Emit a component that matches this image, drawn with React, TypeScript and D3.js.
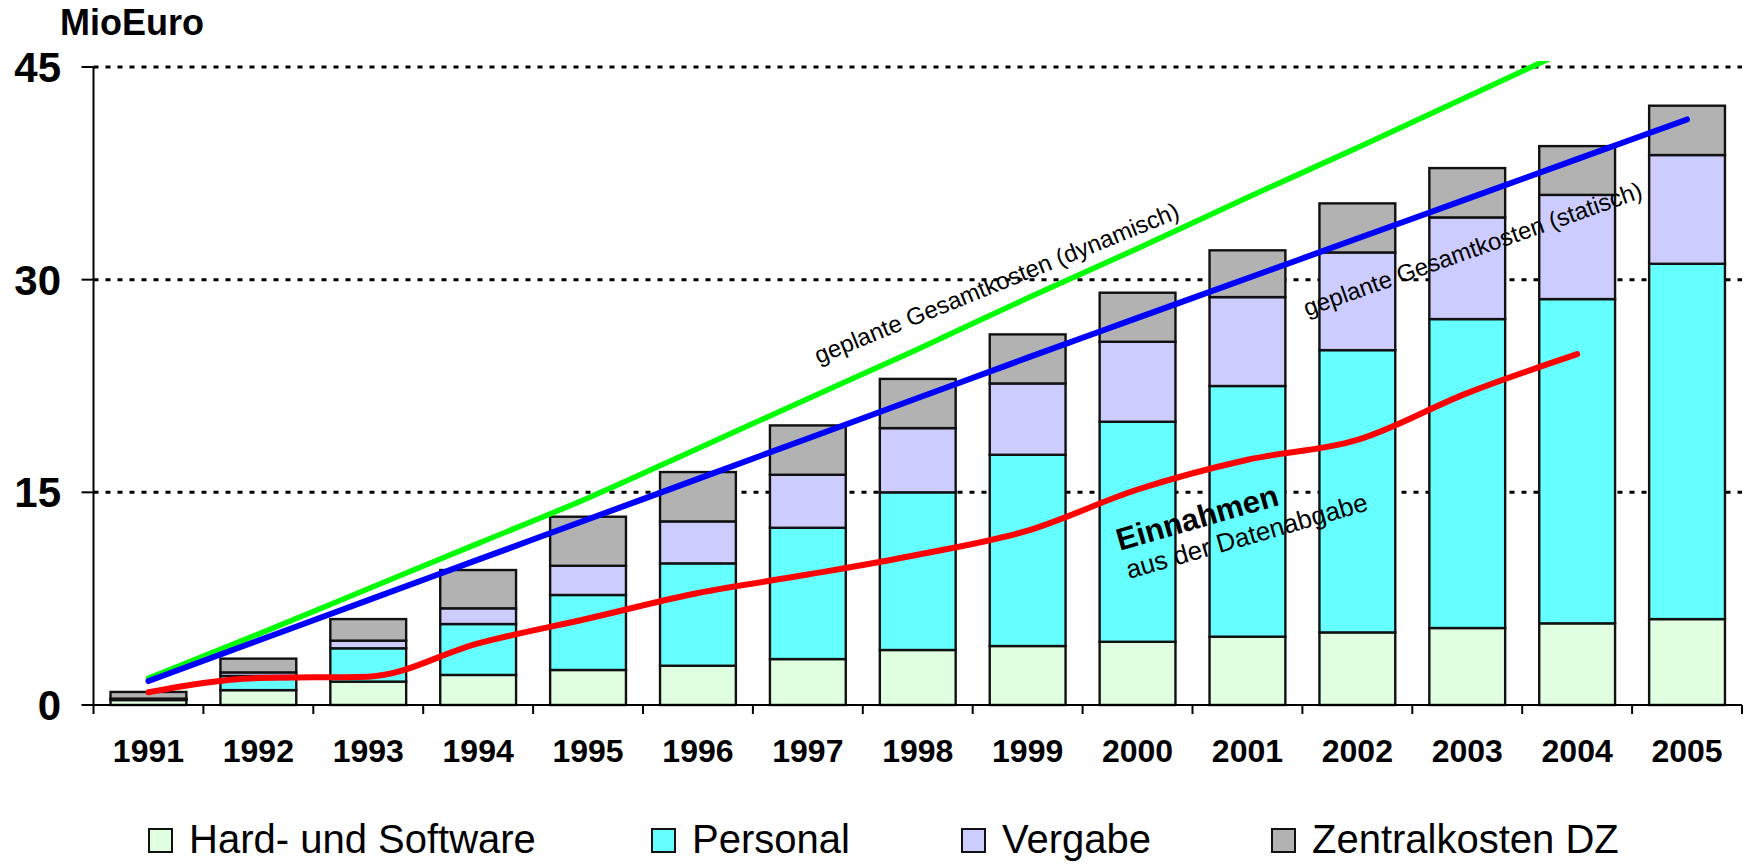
import React from 'react';
import * as d3 from 'd3';

const years = ['1991','1992','1993','1994','1995','1996','1997','1998','1999','2000','2001','2002','2003','2004','2005'];
const hardSoftware = [0.35, 1.05, 1.65, 2.12, 2.47, 2.77, 3.24, 3.88, 4.16, 4.46, 4.82, 5.12, 5.43, 5.76, 6.06];
const personal = [0.05, 1.0, 2.35, 3.59, 5.29, 7.22, 9.26, 11.12, 13.49, 15.52, 17.68, 19.91, 21.79, 22.87, 25.06];
const vergabe = [0.05, 0.25, 0.54, 1.11, 2.06, 2.96, 3.74, 4.53, 5.03, 5.64, 6.27, 6.89, 7.17, 7.35, 7.67];
const zentralkosten = [0.47, 0.97, 1.52, 2.70, 3.46, 3.48, 3.48, 3.47, 3.46, 3.46, 3.30, 3.46, 3.48, 3.44, 3.48];

const dynamischYears = ['1991','1992','1993','1994','1995','1996','1997','1998','1999','2000','2001','2002','2003','2004'];
const dynamisch = [1.88, 5.0, 8.2, 11.4, 14.6, 18.1, 21.6, 25.1, 28.7, 32.2, 35.8, 39.3, 42.9, 46.5];
const statisch = [1.69, 4.55, 7.4, 10.25, 13.1, 15.95, 18.8, 21.65, 24.5, 27.3, 30.1, 32.9, 35.7, 38.5, 41.3];
const einnahmenYears = ['1991','1992','1993','1994','1995','1996','1997','1998','1999','2000','2001','2002','2003','2004'];
const einnahmen = [0.9, 1.9, 2.0, 4.35, 6.1, 7.9, 9.2, 10.6, 12.3, 15.2, 17.3, 18.7, 22.0, 24.75];

const yTicks = [0, 15, 30, 45];
const seriesKeys = ['Hard- und Software', 'Personal', 'Vergabe', 'Zentralkosten DZ'];
const seriesColors = ['#E0FFE0', '#66FFFF', '#CCCCFF', '#B2B2B2'];

const FONT = '"Liberation Sans", Arial, sans-serif';

export default function App() {
  const W = 1746, H = 864;
  const x = d3.scaleBand<string>().domain(years).range([93.5, 1742]).paddingInner(0.31).paddingOuter(0.155);
  const y = d3.scaleLinear().domain([0, 45]).range([705, 67]);
  const cx = (yr: string) => (x(yr) as number) + x.bandwidth() / 2;

  const rows = years.map((yr, i) => ({
    year: yr,
    [seriesKeys[0]]: hardSoftware[i],
    [seriesKeys[1]]: personal[i],
    [seriesKeys[2]]: vergabe[i],
    [seriesKeys[3]]: zentralkosten[i],
  }));
  const stacked = d3.stack<any>().keys(seriesKeys)(rows);

  const line = d3.line<[string, number]>().x(d => cx(d[0])).y(d => y(d[1])).curve(d3.curveMonotoneX);
  const greenPath = line(dynamischYears.map((yr, i) => [yr, dynamisch[i]]));
  const bluePath = line(years.map((yr, i) => [yr, statisch[i]]));
  const redPath = line(einnahmenYears.map((yr, i) => [yr, einnahmen[i]]));

  const [x0, x1] = x.range();
  const step = x.step();
  const boundaries = d3.range(years.length + 1).map(i => x0 + i * step);

  const legendSquareX = [149, 652, 962, 1272];

  return (
    <svg width={W} height={H} style={{ position: 'absolute', left: 0, top: 0, display: 'block', background: '#fff' }} fontFamily={FONT}>
      <defs>
        <clipPath id="plotClip">
          <rect x={x0} y={y(45) - 6} width={x1 - x0} height={y(0) - y(45) + 6} />
        </clipPath>
      </defs>
      {yTicks.filter(t => t > 0).map(t => (
        <line key={t} x1={x0} x2={x1} y1={y(t)} y2={y(t)} stroke="#000" strokeWidth={3} strokeDasharray="5,7" />
      ))}
      {stacked.map((s, si) => (
        <g key={s.key}>
          {s.map((d, i) => (
            <rect key={i} x={x(years[i])} y={y(d[1])} width={x.bandwidth()} height={y(d[0]) - y(d[1])}
              fill={seriesColors[si]} stroke="#111" strokeWidth={2.4} />
          ))}
        </g>
      ))}
      <line x1={x0} x2={x0} y1={y(45)} y2={y(0)} stroke="#000" strokeWidth={2} />
      <line x1={x0} x2={x1} y1={y(0)} y2={y(0)} stroke="#000" strokeWidth={2} />
      {yTicks.map(t => (
        <g key={t}>
          <line x1={x0 - 12} x2={x0} y1={y(t)} y2={y(t)} stroke="#000" strokeWidth={2} />
          <text x={61} y={y(t)} dy="0.36em" textAnchor="end" fontSize={42} fontWeight="bold">{t}</text>
        </g>
      ))}
      {boundaries.map((bx, i) => (
        <line key={i} x1={bx} x2={bx} y1={y(0)} y2={y(0) + 9} stroke="#000" strokeWidth={2} />
      ))}
      {years.map(yr => (
        <text key={yr} x={cx(yr)} y={762} textAnchor="middle" fontSize={32} fontWeight="bold">{yr}</text>
      ))}
      <text x={60} y={35} fontSize={36} fontWeight="bold">MioEuro</text>
      <g clipPath="url(#plotClip)">
        <path d={greenPath || ''} fill="none" stroke="#00FF00" strokeWidth={5.5} strokeLinecap="round" />
      </g>
      <path d={bluePath || ''} fill="none" stroke="#0000FF" strokeWidth={6} strokeLinecap="round" />
      <path d={redPath || ''} fill="none" stroke="#FF0000" strokeWidth={6} strokeLinecap="round" />
      <text transform="translate(997,284) rotate(-22)" textAnchor="middle" dy="0.3em" fontSize={24}>geplante Gesamtkosten (dynamisch)</text>
      <text transform="translate(1473,250) rotate(-19.5)" textAnchor="middle" dy="0.3em" fontSize={24}>geplante Gesamtkosten (statisch)</text>
      <text transform="translate(1197,517) rotate(-16)" textAnchor="middle" dy="0.36em" fontSize={31} fontWeight="bold">Einnahmen</text>
      <text transform="translate(1247,537) rotate(-16)" textAnchor="middle" dy="0.3em" fontSize={26}>aus der Datenabgabe</text>
      {seriesKeys.map((k, i) => (
        <g key={k}>
          <rect x={legendSquareX[i]} y={829} width={23} height={23} fill={seriesColors[i]} stroke="#111" strokeWidth={2} />
          <text x={legendSquareX[i] + 40} y={853} fontSize={40}>{k}</text>
        </g>
      ))}
    </svg>
  );
}
